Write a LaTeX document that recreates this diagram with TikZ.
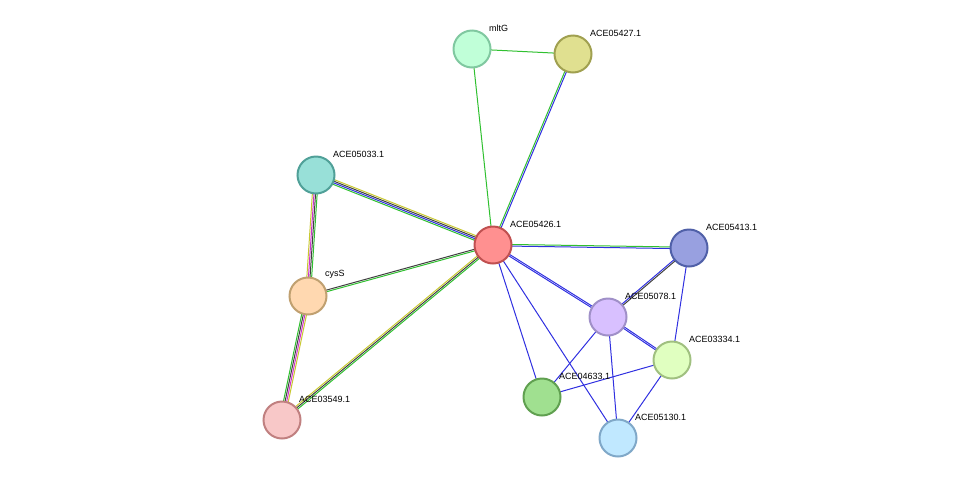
\documentclass[tikz,border=0pt]{standalone}
\usepackage{fontspec}
\setmainfont{Liberation Sans}
\usetikzlibrary{calc,backgrounds}
\begin{document}
\begin{tikzpicture}[x=1pt,y=-1pt,
  prot/.style={circle,minimum size=37pt,inner sep=0pt,line width=2pt},
  lab/.style={font=\fontsize{9}{10}\selectfont,anchor=south west,inner sep=0pt}]
\useasboundingbox (0,0) rectangle (976,483);
\def\P#1#2#3#4#5#6{%
  \definecolor{f#1}{HTML}{#4}\definecolor{b#1}{HTML}{#5}%
  \node[prot,fill=f#1,draw=b#1] (#1) at (#2,#3) {};
  \node[lab] (l#1) at (#2+17,#3-17.5) {#6};}
\P{mltG}{472}{49}{C0FFD8}{80C8A0}{mltG}
\P{n5427}{573}{54}{E0E090}{A0A050}{ACE05427.1}
\P{n5033}{316}{175}{98E0D8}{50A098}{ACE05033.1}
\P{n5426}{493}{245}{FF9090}{C05050}{ACE05426.1}
\P{n5413}{689}{248}{98A0E0}{5060A8}{ACE05413.1}
\P{cysS}{308}{296}{FFD8B0}{C0A070}{cysS}
\P{n5078}{608}{317}{D8C0FF}{A090C8}{ACE05078.1}
\P{n3334}{672}{360}{E0FFC0}{A0C080}{ACE03334.1}
\P{n4633}{542}{397}{A0E090}{60A050}{ACE04633.1}
\P{n3549}{282}{420}{F8C8C8}{C08080}{ACE03549.1}
\P{n5130}{618}{438}{C0E8FF}{80A8C8}{ACE05130.1}
\definecolor{eg}{HTML}{30C030}\definecolor{eb}{HTML}{3030E0}
\definecolor{ek}{HTML}{404040}\definecolor{ey}{HTML}{C8C830}
\definecolor{em}{HTML}{D030D0}
\newcommand\E[4]{% a b count colors
  \begin{scope}[on background layer]
  \foreach \c [count=\i] in {#4} {
    \pgfmathsetmacro\o{(\i-(#3+1)/2)*1.6}
    \draw[\c,line width=1pt] ($(#1.center)!\o pt!90:(#2.center)$) -- ($(#2.center)!\o pt!-90:(#1.center)$);
  }
  \end{scope}}
\E{mltG}{n5427}{1}{eg}
\E{mltG}{n5426}{1}{eg}
\E{n5427}{n5426}{2}{eg,eb}
\E{n5033}{n5426}{4}{eg,eb,ek,ey}
\E{n5033}{cysS}{4}{ey,em,ek,eg}
\E{cysS}{n5426}{2}{eg,ek}
\E{cysS}{n3549}{4}{eg,ek,em,ey}
\E{n3549}{n5426}{3}{eg,ek,ey}
\E{n5426}{n5413}{2}{eb,eg}
\E{n5426}{n5078}{2}{eb,eb}
\E{n5426}{n4633}{1}{eb}
\E{n5426}{n5130}{1}{eb}
\E{n5413}{n5078}{2}{eb,ek}
\E{n5413}{n3334}{1}{eb}
\E{n5078}{n3334}{2}{eb,eb}
\E{n5078}{n4633}{1}{eb}
\E{n5078}{n5130}{1}{eb}
\E{n3334}{n4633}{1}{eb}
\E{n3334}{n5130}{1}{eb}
\end{tikzpicture}
\end{document}
